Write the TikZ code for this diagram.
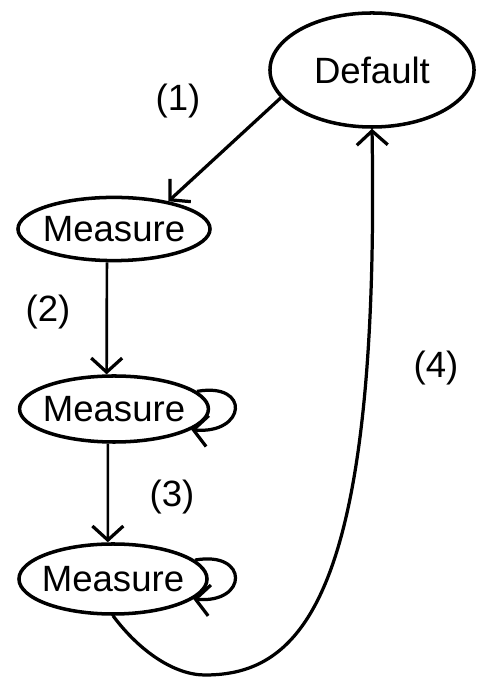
\documentclass[tikz,border=0pt]{standalone}
\usepackage{fontspec}
\setmainfont{Liberation Sans}
\usetikzlibrary{arrows.meta,shapes.geometric}
\tikzstyle{stateNode} = [ellipse, draw=black, line width=2.5pt, inner sep=0pt]
\tikzstyle{transArrow} = [line width=2.3pt, -{Straight Barb[length=10pt,width=22pt,line width=2.3pt]}]

\begin{document}
\begin{tikzpicture}[x=0.025cm, y=0.025cm, font=\fontsize{26}{30}\selectfont]
      \useasboundingbox (0,0) rectangle (481,677);
      % states
      \node[stateNode, minimum width=5.1cm, minimum height=2.85cm, label=center:Default] (d) at (372,607) {};
      \node[stateNode, minimum width=4.8cm, minimum height=1.58cm, label=center:Measure] (m1) at (114,448) {};
      \node[stateNode, minimum width=4.72cm, minimum height=1.65cm, label=center:Measure] (m2) at (114,268) {};
      \node[stateNode, minimum width=4.7cm, minimum height=1.75cm, label=center:Measure] (m3) at (113,98) {};
      % transition labels
      \node (l1) at (178,576) {(1)};
      \node (l2) at (48,365) {(2)};
      \node (l3) at (172,180) {(3)};
      \node (l4) at (436,309) {(4)};
      % transitions
      \draw[transArrow] (d.197) -- (m1.27);
      \draw[transArrow, line width=1.9pt] (m1.258) -- (m2.102);
      \draw[transArrow, line width=1.9pt] (m2.260) -- (m3.98);
      \draw[transArrow] (m2.12) .. controls +(10:55) and +(-5:55) .. (m2.-15);
      \draw[transArrow] (m3.13) .. controls +(10:55) and +(-5:55) .. (m3.-14);
      \draw[transArrow] (m3.south) .. controls (140,25) and (175,2) .. (205,2)
            .. controls (300,2) and (380,77) .. (d.south);
    \end{tikzpicture}
\end{document}
